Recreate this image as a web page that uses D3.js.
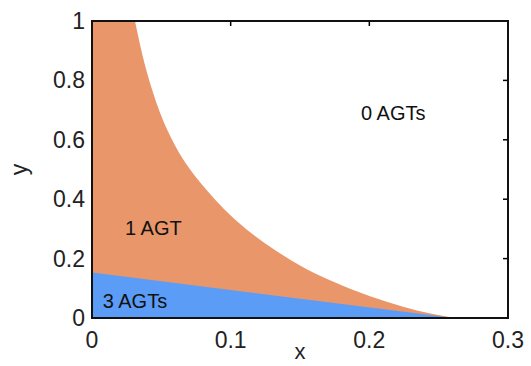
<!DOCTYPE html>
<html>
<head>
<meta charset="utf-8">
<script src="https://cdn.jsdelivr.net/npm/d3@7"></script>
<style>
  body { margin: 0; background: #fff; }
  svg { display: block; font-family: "Liberation Sans", Arial, sans-serif; }
</style>
</head>
<body>
<svg id="chart" width="531" height="366"></svg>
<script>
// boundary between 1 AGT and 0 AGTs (first points run above the top edge and get clipped)
const boundX = [0, 0.022, 0.026, 0.031, 0.038, 0.045, 0.050, 0.060, 0.070, 0.080, 0.090, 0.100, 0.115, 0.130, 0.150, 0.175, 0.200, 0.225, 0.245, 0.262];
const boundY = [2.5, 1.25, 1.12, 1.00, 0.855, 0.745, 0.680, 0.580, 0.505, 0.445, 0.392, 0.345, 0.285, 0.235, 0.177, 0.120, 0.074, 0.037, 0.014, 0.000];
// boundary between 3 AGTs and 1 AGT
const blueX = [0, 0.261];
const blueY = [0.153, 0];

const xTicks = [0, 0.1, 0.2, 0.3];
const yTicks = [0, 0.2, 0.4, 0.6, 0.8, 1];
const regionLabels = ["0 AGTs", "1 AGT", "3 AGTs"];
const labelPos = [[0.1940, 0.666], [0.0238, 0.280], [0.0077, 0.034]];

const svg = d3.select("#chart");
const x = d3.scaleLinear().domain([0, 0.3]).range([92, 508]);
const y = d3.scaleLinear().domain([0, 1]).range([318, 21]);

const fmt = d => d === 0 ? "0" : d === 1 ? "1" : String(d);

svg.append("defs").append("clipPath").attr("id", "plot")
  .append("rect")
  .attr("x", x(0)).attr("y", y(1))
  .attr("width", x(0.3) - x(0)).attr("height", y(0) - y(1));

// ticks under the fills (inward, all four sides)
const tl = 5;
const tk = svg.append("g").attr("stroke", "#000").attr("stroke-width", 1.5);
xTicks.forEach(t => {
  tk.append("line").attr("x1", x(t)).attr("x2", x(t)).attr("y1", y(0)).attr("y2", y(0) - tl);
  tk.append("line").attr("x1", x(t)).attr("x2", x(t)).attr("y1", y(1)).attr("y2", y(1) + tl);
});
yTicks.forEach(t => {
  tk.append("line").attr("y1", y(t)).attr("y2", y(t)).attr("x1", x(0)).attr("x2", x(0) + tl);
  tk.append("line").attr("y1", y(t)).attr("y2", y(t)).attr("x1", x(0.3)).attr("x2", x(0.3) - tl);
});

const fills = svg.append("g").attr("clip-path", "url(#plot)");

const area = d3.area()
  .x(d => x(d[0]))
  .y0(y(0))
  .y1(d => y(d[1]))
  .curve(d3.curveMonotoneX);

fills.append("path")
  .datum(boundX.map((v, i) => [v, boundY[i]]))
  .attr("d", area)
  .attr("fill", "#e8966a");

fills.append("path")
  .datum(blueX.map((v, i) => [v, blueY[i]]))
  .attr("d", area.curve(d3.curveLinear))
  .attr("fill", "#5b9cf6");

// frame
svg.append("rect")
  .attr("x", x(0)).attr("y", y(1))
  .attr("width", x(0.3) - x(0)).attr("height", y(0) - y(1))
  .attr("fill", "none").attr("stroke", "#111").attr("stroke-width", 2);

// tick labels
svg.append("g").selectAll("text").data(xTicks).join("text")
  .attr("x", d => x(d)).attr("y", 348)
  .attr("text-anchor", "middle")
  .attr("font-size", 23).attr("fill", "#222")
  .text(fmt);

svg.append("g").selectAll("text").data(yTicks).join("text")
  .attr("x", 85).attr("y", d => y(d) + 8)
  .attr("text-anchor", "end")
  .attr("font-size", 23).attr("fill", "#222")
  .text(fmt);

// axis titles
svg.append("text")
  .attr("x", x(0.15)).attr("y", 359)
  .attr("text-anchor", "middle").attr("font-size", 22).attr("fill", "#222")
  .text("x");
svg.append("text")
  .attr("transform", "translate(27," + y(0.5) + ") rotate(-90)")
  .attr("text-anchor", "middle").attr("font-size", 23).attr("fill", "#222")
  .text("y");

// region labels
svg.append("g").selectAll("text").data(regionLabels).join("text")
  .attr("x", (d, i) => x(labelPos[i][0]))
  .attr("y", (d, i) => y(labelPos[i][1]))
  .attr("font-size", 20).attr("fill", "#111")
  .text(d => d);
</script>
</body>
</html>
